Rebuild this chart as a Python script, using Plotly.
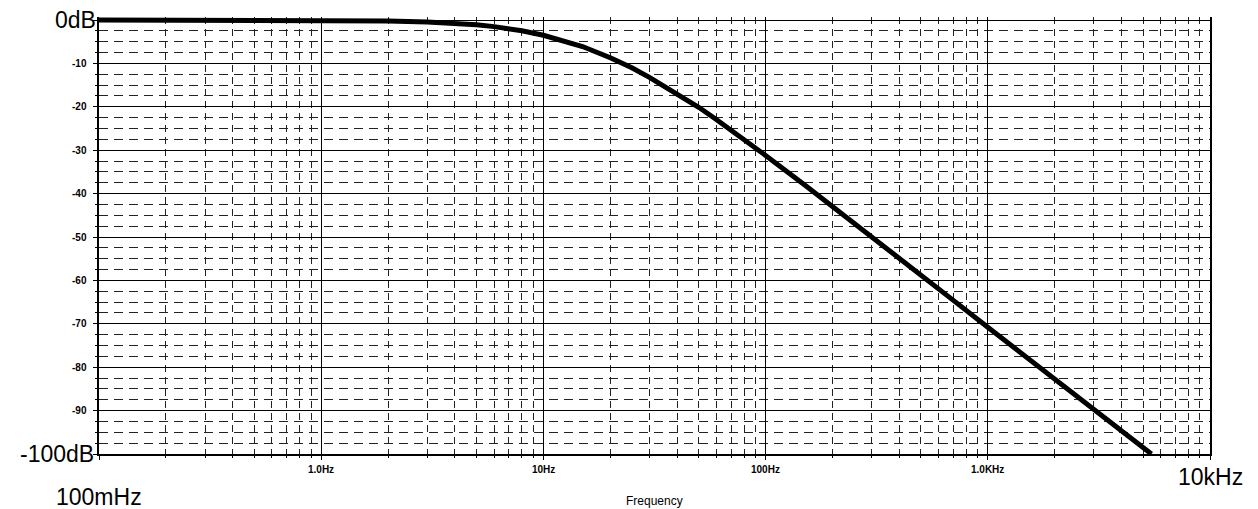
import numpy as np
import plotly.graph_objects as go

# Values
freq_hz = [0.1, 0.2, 0.5, 1, 1.5, 2, 3, 4, 5, 6, 7, 8, 10, 12, 15, 20, 25, 30, 40, 50, 60, 70,
           100, 150, 200, 250, 300, 400, 500, 700, 1000, 1500, 2000, 3000, 4000, 5000, 5450]
gain_db = [0.0, 0.0, -0.01, -0.05, -0.11, -0.2, -0.45, -0.73, -1.1, -1.52, -2.0, -2.47, -3.5,
           -4.56, -6.1, -8.7, -11.0, -13.2, -16.9, -20.1, -22.9, -25.3, -31.2, -38.0, -42.9,
           -46.7, -49.9, -54.9, -58.7, -64.6, -70.8, -77.8, -82.8, -89.8, -94.8, -98.7, -100.0]

y_ticks = [-10, -20, -30, -40, -50, -60, -70, -80, -90]
x_ticks = [1, 10, 100, 1000]
x_tick_labels = ["1.0Hz", "10Hz", "100Hz", "1.0KHz"]

FONT = "Liberation Sans, Arial, sans-serif"

fig = go.Figure()
fig.add_trace(go.Scatter(x=freq_hz, y=gain_db, mode="lines",
                         line=dict(color="black", width=5),
                         showlegend=False, hoverinfo="skip"))

fig.update_layout(
    width=1258, height=509,
    margin=dict(l=99, r=48, t=17, b=55),
    paper_bgcolor="white", plot_bgcolor="white",
    font=dict(family=FONT, color="black"),
    xaxis=dict(type="log", range=[-1, 4], dtick=1, showticklabels=False,
               showgrid=True, gridcolor="black", gridwidth=1,
               showline=True, linecolor="black", linewidth=2,
               ticks="outside", ticklen=4, tickcolor="black",
               minor=dict(dtick="D1", showgrid=True, gridcolor="#222222", gridwidth=1,
                          griddash="7px,5px", ticks="outside", ticklen=2, tickcolor="black"),
               zeroline=False),
    yaxis=dict(range=[-100, 0.7], tick0=0, dtick=10, showticklabels=False,
               showgrid=True, gridcolor="black", gridwidth=1,
               showline=True, mirror=True, linecolor="black", linewidth=1.5,
               ticks="outside", ticklen=4, tickcolor="black",
               minor=dict(dtick=2.5, showgrid=True, gridcolor="#222222", gridwidth=1,
                          griddash="9px,6px", ticks="outside", ticklen=2, tickcolor="black"),
               zeroline=False),
)

BIG = 23
ann = []
ann.append(dict(x=0, xref="paper", y=0, yref="y", text="0dB", showarrow=False,
                xanchor="right", yanchor="middle", xshift=-1, font=dict(size=BIG, family=FONT)))
ann.append(dict(x=0, xref="paper", y=-100, yref="y", text="-100dB", showarrow=False,
                xanchor="right", yanchor="middle", xshift=-3, font=dict(size=BIG, family=FONT)))
for v in y_ticks:
    ann.append(dict(x=0, xref="paper", y=v, yref="y", text="<b>%d</b>" % v, showarrow=False,
                    xanchor="right", yanchor="middle", xshift=-10, font=dict(size=10, family=FONT)))
for v, t in zip(x_ticks, x_tick_labels):
    ann.append(dict(x=np.log10(v), xref="x", y=0, yref="paper", text="<b>%s</b>" % t, showarrow=False,
                    xanchor="center", yanchor="top", yshift=-8, font=dict(size=10, family=FONT)))
ann.append(dict(x=-1, xref="x", y=0, yref="paper", text="100mHz", showarrow=False,
                xanchor="center", yanchor="top", yshift=-28, font=dict(size=BIG, family=FONT)))
ann.append(dict(x=4, xref="x", y=0, yref="paper", text="10kHz", showarrow=False,
                xanchor="center", yanchor="top", yshift=-8, font=dict(size=BIG, family=FONT)))
ann.append(dict(x=0.5, xref="paper", y=0, yref="paper", text="Frequency", showarrow=False,
                xanchor="center", yanchor="top", yshift=-38, font=dict(size=12, family=FONT)))
fig.update_layout(annotations=ann)

fig.write_html("out.html")
